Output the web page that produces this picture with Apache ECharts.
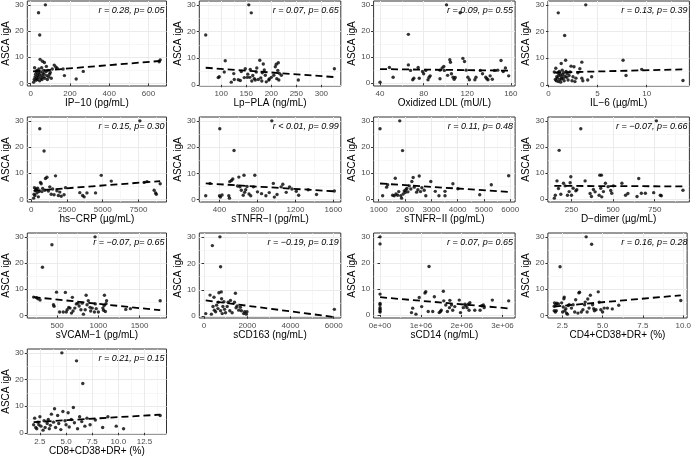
<!DOCTYPE html>
<html><head><meta charset="utf-8">
<script src="https://cdn.jsdelivr.net/npm/echarts@6/dist/echarts.min.js"></script>
<style>html,body{margin:0;padding:0;background:#fff}#c{width:694px;height:458px}</style>
</head><body><div id="c"></div>
<script>
// ---------- shared y ----------
const yTicks = [0, 10, 20, 30];
const yTitle = 'ASCA igA';

// ---------- panel data ----------
const ip10Title = 'IP\u221210 (pg/mL)';
const ip10Ticks = [0, 200, 400, 600];
const ip10Note = 'r = 0.28, p= 0.05';
const ip10Pts = [[15,0.5],[18,1.5],[20,6],[22,2.5],[25,3.5],[27,1.2],[28,4.5],[30,2],[32,5],[34,3],[40,27],[36,1.5],[38,4],[40,2.5],[42,5.5],[44,3.5],[46,18.5],[46,1],[48,9.2],[50,4.5],[52,2],[54,3],[56,6],[58,1.5],[60,8.5],[62,4],[64,2.5],[66,5],[68,3.5],[70,8],[72,2],[75,30],[78,4.5],[80,6.5],[82,3],[85,1.5],[88,5],[92,2.5],[96,3.5],[100,4.2],[105,2],[110,5.5],[120,7],[128,6.3],[135,5.8],[165,5.5],[172,3],[232,1.7],[268,4.6],[660,9],[655,8.3]];
const ip10Fit = [[12,4.6],[662,8.6]];

const lpTitle = 'Lp\u2212PLA (ng/mL)';
const lpTicks = [100, 150, 200, 250, 300];
const lpNote = 'r = 0.07, p= 0.65';
const lpPts = [[69,18.7],[155,30],[160,27],[108,9],[106,4.8],[94,2.7],[96,3],[120,1],[125,4.2],[126,2],[134,1.9],[138,1.6],[146,2.7],[148,6],[152,2.8],[153,4],[157,2.8],[158,5.8],[161,1.4],[166,2.3],[168,1.8],[170,4.8],[171,6.3],[174,2],[177,9.2],[179,2.6],[181,1.4],[184,7.8],[186,5.6],[188,3.6],[190,1.1],[195,1.8],[196,2.2],[205,3.6],[208,6.8],[210,7.7],[211,2.3],[213,5.4],[214,8.3],[215,1.8],[216,4.3],[220,3.6],[254,1.8],[326,6],[140,5],[163,3.5],[200,2.8],[182,4.5]];
const lpFit = [[69,6.4],[326,2.9]];

const oxTitle = 'Oxidized LDL (mU/L)';
const oxTicks = [40, 80, 120, 160];
const oxNote = 'r = 0.09, p= 0.55';
const oxPts = [[40,0.4],[48.6,6],[52,2.3],[66,18.7],[66,7],[68,4.9],[70,1.3],[71,1.9],[76,1.9],[75,6],[79,4.5],[80,3.6],[82,4.9],[84,1.3],[85,2.3],[86,2.8],[95,1.7],[95,5],[97,5.8],[98.5,6.4],[99,4.9],[101,30],[102,3],[104,9],[104.6,8],[105.5,3.6],[107,2.3],[108,1.5],[109,2.2],[113.5,27],[116,9.5],[117.5,8.3],[119,5],[120.6,2.3],[122,1.3],[127,1.3],[128,2.3],[132,4.9],[134,3.6],[137,2.3],[138,1.7],[139,1.3],[141,2.8],[143,1.5],[145,4.9],[148,5],[151,8.7],[153,4.5],[155,5.8],[158,2.8]];
const oxFit = [[40,5.4],[158,4.8]];

const il6Title = 'IL\u22126 (\u00b5g/mL)';
const il6Ticks = [0, 5, 10];
const il6Note = 'r = 0.13, p= 0.39';
const il6Pts = [[0.6,4.8],[0.7,2],[0.75,6.2],[0.8,1.5],[0.85,3],[0.9,2.5],[0.95,4.5],[1.0,27],[1.0,1.2],[1.05,3.5],[1.1,5],[1.15,2],[1.2,4],[1.25,1],[1.3,8],[1.3,3],[1.35,2.2],[1.4,5.5],[1.45,3.8],[1.5,2.5],[1.55,4.5],[1.65,18.5],[1.6,1.5],[1.7,3.2],[1.75,9.2],[1.8,5],[1.85,2.8],[1.9,4.2],[2.0,1.8],[2.1,3.5],[2.2,4.8],[2.3,7],[2.4,1.5],[2.5,3],[2.6,6.8],[2.7,1.2],[2.8,2.5],[3.0,4.5],[3.2,6],[3.4,8.5],[3.4,2.5],[3.5,1.5],[3.8,30],[4.0,1.8],[4.4,3],[7.6,9.2],[7.9,3.5],[9.5,5.8],[13.7,1.6]];
const il6Fit = [[0.6,4.6],[13.7,5.8]];

const crpTitle = 'hs\u2212CRP (\u00b5g/mL)';
const crpTicks = [0, 2500, 5000, 7500];
const crpNote = 'r = 0.15, p= 0.30';
const crpPts = [[170,0.5],[200,2],[230,4.5],[260,1.5],[300,3.5],[350,4],[400,2.5],[450,4.3],[500,1],[550,3],[600,27],[650,6.5],[700,6],[750,3],[800,4.2],[900,18.5],[950,3.5],[1000,8],[1100,8.5],[1200,3.2],[1300,4.8],[1400,2],[1500,4],[1600,1.8],[1700,9],[1800,3.3],[1900,1.5],[2000,2.8],[2100,1.2],[2300,1.8],[2400,4.5],[3400,2.6],[3600,1.5],[3700,1],[3900,2.5],[4500,2.5],[4900,9.2],[5600,7],[7600,30],[7900,6.5],[8100,6.8],[8600,3.5],[8700,2.5],[8750,2],[9020,6]];
const crpFit = [[170,3.3],[9020,7]];

const tnf1Title = 'sTNFR\u2212I (pg/mL)';
const tnf1Ticks = [400, 800, 1200, 1600];
const tnf1Note = 'r < 0.01, p= 0.99';
const tnf1Pts = [[255,1.5],[403,27],[553,18.7],[951,30],[400,1.5],[410,1],[427,1.8],[498,1.5],[505,0.6],[508,6.9],[526,7.3],[540,7.9],[604,8.6],[658,9.3],[772,9.3],[615,4.9],[630,3.6],[650,1.7],[665,2.8],[676,3.8],[711,2.2],[729,1.5],[758,4.9],[800,3],[843,2.3],[889,1.5],[924,2.7],[967,6.2],[978,1],[1006,2],[1049,4.9],[1067,5.9],[1103,2.8],[1138,4.9],[1163,4.1],[1209,3.2],[1234,1.7],[1334,3.8],[1422,2],[1610,3.3],[300,6.2],[590,5.2],[690,5]];
const tnf1Fit = [[255,6.2],[1610,3.2]];

const tnf2Title = 'sTNFR\u2212II (pg/mL)';
const tnf2Ticks = [1000, 2000, 3000, 4000, 5000, 6000];
const tnf2Note = 'r = 0.11, p= 0.48';
const tnf2Pts = [[1050,27],[1800,30],[1906,18.6],[1150,1.3],[1300,4.6],[1340,5.5],[1630,8],[1530,1.5],[1590,1.3],[1655,2],[1720,1.5],[1760,2.9],[1840,1.3],[1870,0.4],[1930,2],[1970,3.2],[2010,2.6],[2030,3.6],[2070,4.1],[2110,2.8],[2160,5.1],[2220,3.9],[2260,6.8],[2310,8.3],[2350,4.6],[2440,2.7],[2490,3.6],[2540,8.9],[2590,2.9],[2640,4.4],[2730,3.4],[2790,1.3],[2980,6.8],[3150,3],[3290,1.3],[3520,1.3],[3520,3],[3820,5.9],[4010,4],[4840,1.7],[5280,5.5],[5940,9]];
const tnf2Fit = [[1050,6],[5940,2.8]];

const ddTitle = 'D\u2212dimer (\u00b5g/mL)';
const ddTicks = [250, 500, 750];
const ddNote = 'r = \u22120.07, p= 0.66';
const ddPts = [[147,0.4],[153,1.5],[163,7],[172,4.1],[176,18.7],[186,1.9],[202,6.1],[212,5.1],[226,1.5],[236,2.9],[242,6.3],[246,8.6],[250,1.5],[260,4.2],[276,3.2],[282,3.6],[306,27],[332,7],[362,2.2],[370,1],[382,3.7],[392,2.8],[416,1.5],[420,9.2],[430,9.2],[426,4.2],[432,0.9],[442,2.9],[454,6.1],[470,4.8],[486,3.3],[492,2.3],[502,5.1],[553,6.1],[575,1.5],[589,2.2],[654,7.9],[644,1],[670,2.3],[694,2.3],[760,30],[744,2.5],[784,1.5],[790,1.3],[920,3.4]];
const ddFit = [[147,5.1],[920,4.9]];

const vcamTitle = 'sVCAM\u22121 (pg/mL)';
const vcamTicks = [500, 1000, 1500];
const vcamNote = 'r = \u22120.07, p= 0.65';
const vcamPts = [[215,7],[250,6.8],[267,6.4],[293,5.9],[322,18.4],[437,27],[456,4.1],[463,3.5],[493,8.9],[530,1.3],[574,1.3],[600,8.8],[611,1.3],[622,2.2],[641,3.1],[656,2.8],[674,0.9],[685,6.9],[693,1.7],[715,2.8],[733,4.4],[752,4.7],[767,3.6],[789,2.2],[804,4.7],[819,0.5],[841,2.2],[852,7.7],[863,4.1],[878,5.6],[900,3.1],[907,1.7],[926,2.8],[960,30],[952,1.3],[963,4.4],[974,2.6],[1000,1.3],[1055,2.8],[1063,2],[1070,3.8],[1074,7.7],[1085,1.5],[1093,4.5],[1100,5.6],[1333,2.3],[1389,2.6],[1750,5.6]];
const vcamFit = [[215,7],[1750,2]];

const cd163Title = 'sCD163 (ng/mL)';
const cd163Ticks = [0, 2000, 4000, 6000];
const cd163Note = 'r = \u22120.19, p= 0.19';
const cd163Pts = [[76,1],[275,8],[336,0.8],[382,26.7],[412,3.7],[458,7.2],[473,2.3],[534,1.7],[580,4.2],[641,2.9],[656,5.3],[687,8.9],[733,30],[763,18.7],[794,9.2],[763,2.1],[809,6.6],[840,1],[870,3.7],[916,5.5],[947,2.6],[992,1.3],[1069,3.7],[1115,5.3],[1191,2.1],[1221,6],[1298,1.3],[1405,5.3],[1450,8.7],[1481,3.2],[1527,3.9],[1603,2.3],[1679,3.4],[1725,2.1],[1832,1],[1878,1.7],[1954,0.8],[1985,1.7],[6030,2.6]];
const cd163Fit = [[76,6],[6030,-0.3]];

const cd14Title = 'sCD14 (ng/mL)';
const cd14Ticks = [0, 1e6, 2e6, 3e6];
const cd14Note = 'r = 0.07, p= 0.65';
const cd14Pts = [[0,30],[0,27.3],[0,8],[0,4.4],[0,3.9],[0,2.8],[0,2.2],[0,1.5],[0,1.1],[770000,0.9],[800000,2.6],[880000,0.3],[960000,6.7],[1020000,3.2],[1100000,8.4],[1120000,8.9],[1200000,18.6],[1180000,1.3],[1290000,1.3],[1330000,7],[1450000,0.9],[1480000,1.3],[1500000,1.8],[1550000,9.1],[1560000,5.4],[1610000,3.8],[1650000,1.3],[1700000,2.8],[1710000,5.6],[1750000,3.8],[1780000,1.8],[1830000,3.2],[1940000,5.7],[1970000,0.9],[2040000,2.8],[2080000,4.1],[2100000,3.5],[2130000,2.8],[2160000,4.1],[2180000,1.8],[2200000,4.7],[2320000,1.8],[2450000,1.8],[2490000,3.5],[2530000,3.8],[2550000,2.8],[2750000,5.7],[3150000,5.4]];
const cd14Fit = [[0,6.8],[3150000,2.5]];

const cd4Title = 'CD4+CD38+DR+ (%)';
const cd4Ticks = [2.5, 5, 7.5, 10];
const cd4Note = 'r = 0.16, p= 0.28';
const cd4Pts = [[2.0,1.8],[2.0,3.5],[2.02,4.8],[2.07,1.3],[2.13,1.8],[2.1,4.1],[2.16,4.7],[2.26,4.4],[2.36,18.6],[2.46,4.8],[2.52,1.3],[2.56,3.2],[2.6,6.4],[2.62,7],[2.66,1.8],[2.72,2.6],[2.76,0.9],[2.82,0.5],[2.87,3.8],[2.93,4.1],[3.07,2.8],[3.17,4.1],[3.27,1.3],[3.33,6],[3.47,0.9],[3.53,8.6],[3.57,8.9],[3.68,1.3],[3.78,2.2],[3.88,4.1],[3.92,5.1],[3.98,30],[4.04,1.3],[4.08,6.3],[4.16,2.8],[4.24,7.7],[4.32,27.2],[4.38,4.1],[4.45,2.6],[4.49,1.8],[4.59,2.2],[4.73,9],[4.79,5.1],[4.89,2.2],[5.0,1.3],[5.1,2.8],[5.3,2.8],[5.6,2.5],[6.0,3.9],[9.85,5.7]];
const cd4Fit = [[2.0,3.4],[9.85,7.7]];

const cd8Title = 'CD8+CD38+DR+ (%)';
const cd8Ticks = [2.5, 5, 7.5, 10, 12.5];
const cd8Note = 'r = 0.21, p= 0.15';
const cd8Pts = [[1.9,3],[2.0,5.5],[2.1,2],[2.2,1.5],[2.3,4],[2.4,3],[2.5,6],[2.6,2.5],[2.8,1],[2.9,4.5],[3.0,2],[3.2,3.5],[3.3,5],[3.4,1.5],[3.5,2.8],[3.6,7],[3.8,4],[3.9,9],[4.0,2],[4.2,6.5],[4.3,3.5],[4.6,30],[4.5,1.2],[4.7,8],[4.9,4.5],[5.0,3],[5.2,7.5],[5.3,2.2],[5.5,5],[6.0,27],[5.7,9.5],[5.8,3.8],[6.1,1.5],[6.6,18.5],[6.3,6],[6.5,4.2],[6.8,2.5],[7.0,5.5],[7.3,3],[7.8,4.8],[8.5,2],[9.0,6],[9.8,2.5],[10.5,1.5],[14,6.5]];
const cd8Fit = [[1.9,4],[14,6.8]];

// ---------- assembly ----------
const sci = v => v.toExponential(0).replace(/e([+-])(\d)$/, 'e$10$2');
const fix1 = v => v.toFixed(1);
const panels = [
  {title: ip10Title, ticks: ip10Ticks, note: ip10Note, pts: ip10Pts, fit: ip10Fit},
  {title: lpTitle, ticks: lpTicks, note: lpNote, pts: lpPts, fit: lpFit},
  {title: oxTitle, ticks: oxTicks, note: oxNote, pts: oxPts, fit: oxFit},
  {title: il6Title, ticks: il6Ticks, note: il6Note, pts: il6Pts, fit: il6Fit},
  {title: crpTitle, ticks: crpTicks, note: crpNote, pts: crpPts, fit: crpFit},
  {title: tnf1Title, ticks: tnf1Ticks, note: tnf1Note, pts: tnf1Pts, fit: tnf1Fit},
  {title: tnf2Title, ticks: tnf2Ticks, note: tnf2Note, pts: tnf2Pts, fit: tnf2Fit},
  {title: ddTitle, ticks: ddTicks, note: ddNote, pts: ddPts, fit: ddFit},
  {title: vcamTitle, ticks: vcamTicks, note: vcamNote, pts: vcamPts, fit: vcamFit},
  {title: cd163Title, ticks: cd163Ticks, note: cd163Note, pts: cd163Pts, fit: cd163Fit},
  {title: cd14Title, ticks: cd14Ticks, note: cd14Note, pts: cd14Pts, fit: cd14Fit, fmt: sci},
  {title: cd4Title, ticks: cd4Ticks, note: cd4Note, pts: cd4Pts, fit: cd4Fit, fmt: fix1},
  {title: cd8Title, ticks: cd8Ticks, note: cd8Note, pts: cd8Pts, fit: cd8Fit, fmt: fix1}
];

const FONT = '"Liberation Sans", Arial, Helvetica, sans-serif';
const colL = 25, colStep = 174.3, panW = 141.5;
const rowT = 1, rowStep = 116, panH = 85;

function expand(vals) {
  const lo = Math.min(...vals), hi = Math.max(...vals);
  const d = (hi - lo) * 0.05;
  return [lo - d, hi + d];
}
function minors(ticks, lim) {
  const step = ticks[1] - ticks[0];
  const out = [];
  const all = [ticks[0] - step].concat(ticks).concat([ticks[ticks.length - 1] + step]);
  for (let i = 0; i < all.length - 1; i++) {
    const m = (all[i] + all[i + 1]) / 2;
    if (m > lim[0] && m < lim[1]) out.push(m);
  }
  return out;
}

const grid = [], xAxis = [], yAxis = [], series = [], graphic = [];
panels.forEach((p, i) => {
  const c = i % 4, r = Math.floor(i / 4);
  const left = colL + c * colStep, top = rowT + r * rowStep;
  grid.push({left, top, width: panW, height: panH, show: true, borderColor: '#333', borderWidth: 1, backgroundColor: '#fff', containLabel: false});
  const xl = expand(p.pts.map(d => d[0]));
  const yl = expand(p.pts.map(d => d[1]));
  const xt = p.ticks.filter(v => v >= xl[0] && v <= xl[1]);
  xAxis.push({
    type: 'value', gridIndex: i, min: xl[0], max: xl[1],
    axisLine: {show: false},
    axisTick: {show: true, length: 2.5, lineStyle: {color: '#333', width: 1}, customValues: xt},
    axisLabel: {color: '#4d4d4d', fontSize: 8, fontFamily: FONT, margin: 3.5, customValues: xt,
      formatter: p.fmt ? p.fmt : (v => String(v))},
    splitLine: {show: true, lineStyle: {color: '#ebebeb', width: 1}},
    name: p.title, nameLocation: 'middle', nameGap: 12,
    nameTextStyle: {color: '#000', fontSize: 10, fontFamily: FONT}
  });
  yAxis.push({
    type: 'value', gridIndex: i, min: yl[0], max: yl[1],
    axisLine: {show: false},
    axisTick: {show: true, length: 2.5, lineStyle: {color: '#333', width: 1}, customValues: yTicks},
    axisLabel: {color: '#4d4d4d', fontSize: 8, fontFamily: FONT, margin: 3.5, customValues: yTicks},
    splitLine: {show: true, lineStyle: {color: '#ebebeb', width: 1}},
    name: yTitle, nameLocation: 'middle', nameGap: 10, nameRotate: 90,
    nameTextStyle: {color: '#000', fontSize: 10, fontFamily: FONT}
  });
  series.push({
    type: 'line', xAxisIndex: i, yAxisIndex: i, data: p.fit, symbol: 'none', silent: true,
    lineStyle: {color: '#000', width: 1.8, type: [7, 4]}, z: 3
  });
  series.push({
    type: 'scatter', xAxisIndex: i, yAxisIndex: i, data: p.pts, symbolSize: 3.4, silent: true,
    itemStyle: {color: '#000'}, z: 4
  });
  graphic.push({
    type: 'text', x: left + panW - 2, y: top + 9, z: 10,
    style: {text: p.note, fill: '#000', font: 'italic 9px ' + FONT, textAlign: 'right', textVerticalAlign: 'middle'}
  });
});
panels.forEach((p, i) => {
  const xl = xAxis[i], yl = yAxis[i];
  xAxis.push({type: 'value', gridIndex: i, min: xl.min, max: xl.max, axisLine: {show: false}, axisLabel: {show: false},
    axisTick: {show: false, customValues: minors(p.ticks, [xl.min, xl.max])},
    splitLine: {show: true, lineStyle: {color: '#f2f2f2', width: 0.6}}, z: 0});
  yAxis.push({type: 'value', gridIndex: i, min: yl.min, max: yl.max, axisLine: {show: false}, axisLabel: {show: false},
    axisTick: {show: false, customValues: minors(yTicks, [yl.min, yl.max])},
    splitLine: {show: true, lineStyle: {color: '#f2f2f2', width: 0.6}}, z: 0});
});

const chart = echarts.init(document.getElementById('c'), null, {renderer: 'canvas'});
chart.setOption({animation: false, backgroundColor: '#fff', grid, xAxis, yAxis, series, graphic});
</script></body></html>
